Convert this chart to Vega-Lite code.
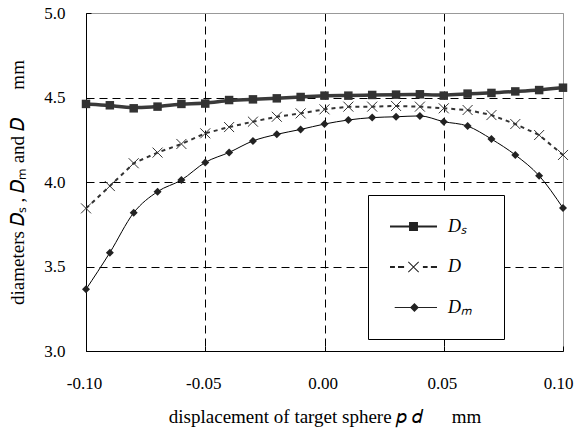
{
  "$schema": "https://vega.github.io/schema/vega-lite/v6.json",
  "width": 477,
  "height": 338,
  "autosize": "none",
  "padding": {"left": 86, "top": 13, "right": 16, "bottom": 86},
  "background": "white",
  "config": {
    "view": {"stroke": "#999", "strokeWidth": 1},
    "axis": {
      "labelFont": "Liberation Serif, serif",
      "titleFont": "Liberation Serif, serif",
      "labelFontSize": 17,
      "labelColor": "#000",
      "titleFontSize": 19,
      "titleFontWeight": "normal",
      "titleColor": "#000",
      "domainColor": "#000",
      "domainWidth": 1,
      "tickColor": "#000",
      "tickSize": -5,
      "grid": true,
      "gridDash": [8, 5],
      "gridWidth": 1,
      "labelFlush": false,
      "labelOverlap": false
    }
  },
  "data": {
    "values": [
      {"p": -0.10, "Ds": 4.462, "D": 3.844, "Dm": 3.365},
      {"p": -0.09, "Ds": 4.454, "D": 3.976, "Dm": 3.582},
      {"p": -0.08, "Ds": 4.436, "D": 4.111, "Dm": 3.818},
      {"p": -0.07, "Ds": 4.446, "D": 4.174, "Dm": 3.943},
      {"p": -0.06, "Ds": 4.462, "D": 4.225, "Dm": 4.012},
      {"p": -0.05, "Ds": 4.464, "D": 4.288, "Dm": 4.116},
      {"p": -0.04, "Ds": 4.485, "D": 4.325, "Dm": 4.175},
      {"p": -0.03, "Ds": 4.489, "D": 4.357, "Dm": 4.243},
      {"p": -0.02, "Ds": 4.495, "D": 4.386, "Dm": 4.282},
      {"p": -0.01, "Ds": 4.503, "D": 4.406, "Dm": 4.311},
      {"p": 0.00, "Ds": 4.511, "D": 4.430, "Dm": 4.343},
      {"p": 0.01, "Ds": 4.511, "D": 4.446, "Dm": 4.367},
      {"p": 0.02, "Ds": 4.515, "D": 4.446, "Dm": 4.381},
      {"p": 0.03, "Ds": 4.517, "D": 4.450, "Dm": 4.386},
      {"p": 0.04, "Ds": 4.519, "D": 4.446, "Dm": 4.391},
      {"p": 0.05, "Ds": 4.511, "D": 4.436, "Dm": 4.357},
      {"p": 0.06, "Ds": 4.523, "D": 4.426, "Dm": 4.331},
      {"p": 0.07, "Ds": 4.527, "D": 4.396, "Dm": 4.254},
      {"p": 0.08, "Ds": 4.536, "D": 4.343, "Dm": 4.160},
      {"p": 0.09, "Ds": 4.544, "D": 4.278, "Dm": 4.037},
      {"p": 0.10, "Ds": 4.558, "D": 4.160, "Dm": 3.846}
    ]
  },
  "transform": [{"fold": ["Ds", "D", "Dm"], "as": ["series", "value"]}],
  "encoding": {
    "x": {
      "field": "p",
      "type": "quantitative",
      "scale": {"domain": [-0.1, 0.1], "nice": false, "zero": false},
      "axis": {
        "values": [-0.1, -0.05, 0, 0.05, 0.1],
        "labelExpr": "datum.value < 0 ? '-' + format(-datum.value, '.2f') : format(datum.value, '.2f')",
        "labelPadding": 29.5,
        "labelOffset": {"condition": {"test": "datum.value > 0.099", "value": -5}, "value": -2},
        "gridColor": {"condition": {"test": "datum.value > 0.099", "value": "#999"}, "value": "#000"},
        "title": "displacement of target sphere 𝑝 𝑑\u00a0\u00a0\u00a0\u00a0\u00a0\u00a0mm",
        "titleX": 238.5,
        "titleY": 71,
        "titleBaseline": "alphabetic",
        "titleAlign": "center"
      }
    },
    "y": {
      "field": "value",
      "type": "quantitative",
      "scale": {"domain": [3, 5], "nice": false, "zero": false},
      "axis": {
        "values": [3, 3.5, 4, 4.5, 5],
        "format": ".1f",
        "labelPadding": 26,
        "gridColor": {"condition": {"test": "datum.value > 4.99", "value": "#999"}, "value": "#000"},
        "title": "diameters 𝐷ₛ , 𝐷ₘ and 𝐷\u00a0\u00a0\u00a0\u00a0\u00a0\u00a0mm",
        "titleX": -69,
        "titleY": 169,
        "titleAngle": -90,
        "titleAlign": "center",
        "titleBaseline": "middle"
      }
    }
  },
  "layer": [
    {
      "transform": [{"filter": "datum.series == 'Ds'"}],
      "mark": {"type": "line", "color": "#3a3a3a", "strokeWidth": 3.5, "interpolate": "basis"}
    },
    {
      "transform": [{"filter": "datum.series == 'D'"}],
      "mark": {"type": "line", "color": "#333", "strokeWidth": 2, "strokeDash": [4, 4]}
    },
    {
      "transform": [{"filter": "datum.series == 'Dm'"}],
      "mark": {"type": "line", "color": "#000", "strokeWidth": 1, "interpolate": "monotone"}
    },
    {
      "transform": [{"filter": "datum.series == 'Ds'"}],
      "mark": {"type": "square", "size": 72, "color": "#333", "filled": true, "opacity": 1}
    },
    {
      "transform": [{"filter": "datum.series == 'D'"}],
      "mark": {"type": "point", "shape": "M-1,-1L1,1M-1,1L1,-1", "size": 100, "stroke": "#333", "strokeWidth": 1, "filled": false, "opacity": 1}
    },
    {
      "transform": [{"filter": "datum.series == 'Dm'"}],
      "mark": {"type": "point", "shape": "diamond", "size": 64, "color": "#222", "filled": true, "opacity": 1}
    },
    {
      "transform": [{"filter": "false"}],
      "mark": {"type": "point", "size": 2209, "filled": true, "fill": "#222", "opacity": 1},
      "encoding": {
        "shape": {
          "field": "series",
          "type": "nominal",
          "scale": {
            "domain": ["Ds", "D", "Dm"],
            "range": [
              "M-1,-0.045H1V0.045H-1ZM-0.19,-0.19H0.19V0.19H-0.19ZM3.5,0Z",
              "M-1,-0.043H-0.79V0.043H-1ZM-0.66,-0.043H-0.4V0.043H-0.66ZM0.4,-0.043H0.6V0.043H0.4ZM0.74,-0.043H1V0.043H0.74ZM-0.235,-0.205L0.205,0.235L0.235,0.205L-0.205,-0.235ZM-0.235,0.205L-0.205,0.235L0.235,-0.205L0.205,-0.235Z",
              "M-0.8,-0.022H1V0.022H-0.8ZM0.04,-0.19L0.23,0L0.04,0.19L-0.15,0Z"
            ]
          },
          "legend": {
            "orient": "none",
            "legendX": 282,
            "legendY": 182,
            "title": "\u00a0",
            "titleOrient": "bottom",
            "titleFontSize": 14,
            "titlePadding": 0,
            "padding": 8,
            "rowPadding": 7.5,
            "symbolSize": 2209,
            "symbolOffset": 14,
            "symbolFillColor": "#222",
            "symbolStrokeWidth": 0,
            "labelOffset": 11,
            "labelFont": "Liberation Serif, serif",
            "labelFontSize": 18,
            "labelFontStyle": "italic",
            "labelColor": "#000",
            "fillColor": "white",
            "strokeColor": "#000",
            "symbolOpacity": 1,
            "labelExpr": "datum.label == 'Ds' ? 'Dₛ' : datum.label == 'Dm' ? 'Dₘ' : 'D'"
          }
        }
      }
    }
  ]
}
